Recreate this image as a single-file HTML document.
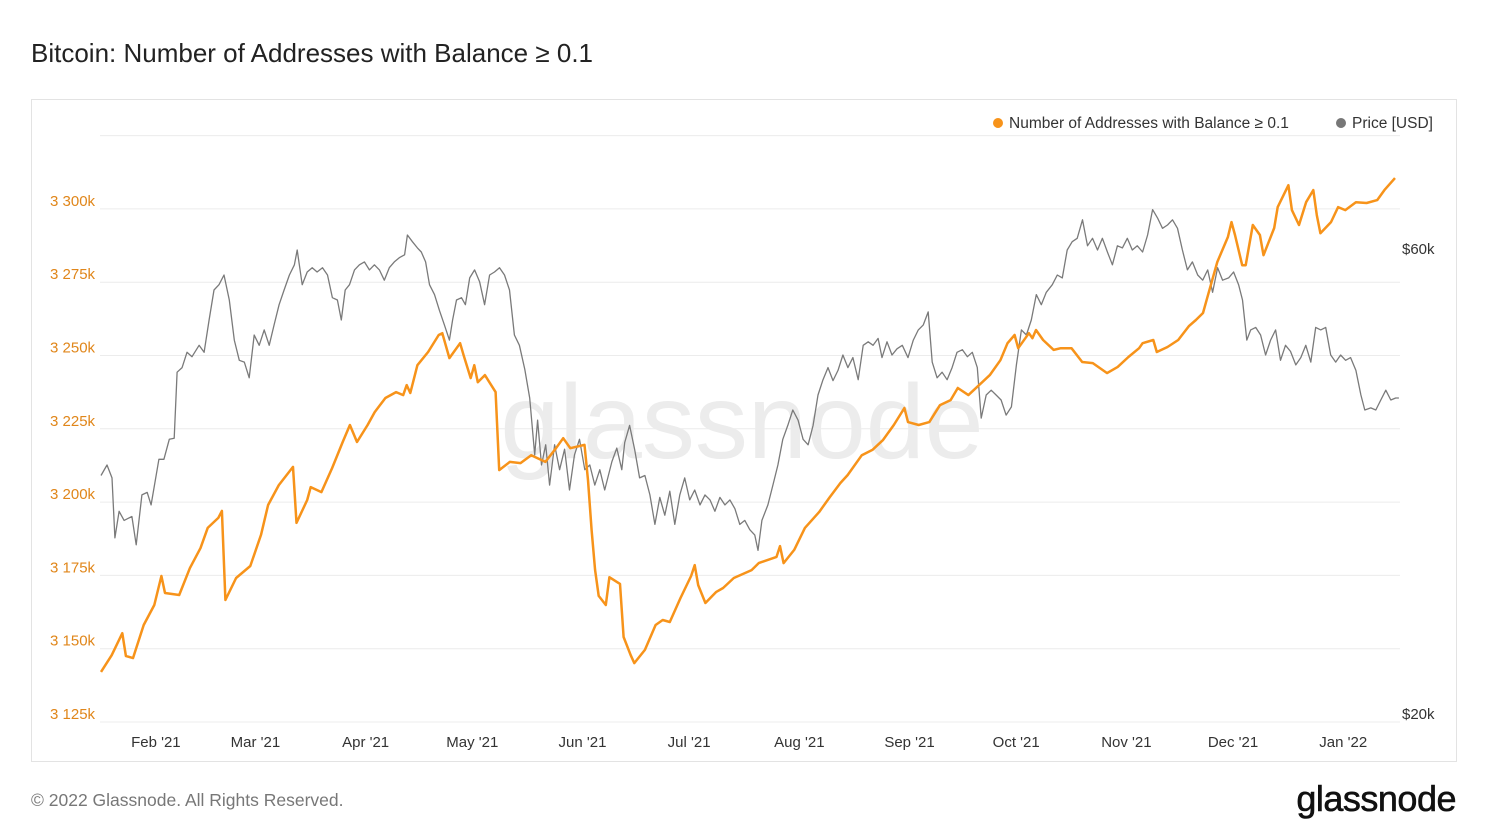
<!DOCTYPE html>
<html><head><meta charset="utf-8">
<style>
body{margin:0;background:#fff;font-family:"Liberation Sans",sans-serif;}
#wrap{position:relative;width:1488px;height:837px;overflow:hidden;background:#fff;}
</style></head>
<body>
<div id="wrap">
<svg id="svg" width="1488" height="837" style="position:absolute;left:0;top:0">
 <text x="31" y="62" font-size="26" fill="#222">Bitcoin: Number of Addresses with Balance ≥ 0.1</text>
 <rect x="31.5" y="99.5" width="1425" height="662" fill="none" stroke="#e3e3e3"/>
 <text x="742" y="458" font-size="106" fill="#ececec" text-anchor="middle">glassnode</text>
 <g id="grid"></g>
 <g id="series"></g>
 <g>
  <circle cx="998" cy="123" r="5" fill="#f7931a"/>
  <text x="1009" y="128" font-size="15.5" fill="#333">Number of Addresses with Balance ≥ 0.1</text>
  <circle cx="1341" cy="123" r="5" fill="#777"/>
  <text x="1352" y="128" font-size="15.5" fill="#333">Price [USD]</text>
 </g>
 <text x="31" y="806" font-size="17.5" fill="#777">© 2022 Glassnode. All Rights Reserved.</text>
 <text x="1456" y="811" font-size="36" fill="#111" text-anchor="end" letter-spacing="-0.5" stroke="#111" stroke-width="0.6">glassnode</text>
</svg>
</div>
<script>
const leftTicks=[3125,3150,3175,3200,3225,3250,3275,3300];
const leftTickLabels=["3 125k","3 150k","3 175k","3 200k","3 225k","3 250k","3 275k","3 300k"];
const rightTicks=[20,60];
const rightTickLabels=["$20k","$60k"];
const monthDays=[16,44,75,105,136,166,197,228,258,289,319,350];
const monthLabels=["Feb '21","Mar '21","Apr '21","May '21","Jun '21","Jul '21","Aug '21","Sep '21","Oct '21","Nov '21","Dec '21","Jan '22"];
const addrDays=[0,3,6,7,9,12,15,17,18,22,25,28,30,33,34,35,38,42,45,47,50,54,55,58,59,62,65,68,70,72,75,77,80,83,85,86,87,89,92,95,96,98,101,102,104,105,106,108,111,112,115,118,121,125,128,130,132,136,137,138,139,140,142,143,146,147,149,150,153,156,158,160,163,166,167,168,170,173,175,178,183,185,190,191,192,195,198,202,205,208,210,214,217,220,223,226,227,230,233,236,239,241,244,247,250,253,255,257,258,261,262,263,265,268,270,273,276,279,283,286,289,292,293,296,297,300,303,306,308,310,311,314,317,318,319,321,322,324,326,327,330,331,334,335,337,339,341,342,343,346,348,350,353,356,359,361,364];
const addrValues=[3142.1,3147.8,3155.3,3147.5,3146.8,3158.1,3164.9,3174.8,3169.0,3168.3,3177.5,3184.3,3191.2,3194.6,3197.0,3166.6,3174.1,3178.2,3188.8,3199.0,3205.8,3212.0,3192.9,3200.7,3205.1,3203.4,3211.6,3220.5,3226.3,3220.5,3226.3,3230.7,3235.5,3237.5,3236.5,3239.9,3237.2,3246.7,3251.2,3257.0,3257.6,3249.1,3254.2,3250.1,3242.3,3246.7,3240.9,3243.3,3237.5,3210.9,3213.7,3213.3,3216.0,3213.7,3218.4,3221.8,3218.4,3219.5,3207.5,3190.5,3176.8,3168.0,3164.9,3174.4,3172.1,3154.0,3147.8,3145.1,3149.6,3158.1,3159.8,3159.1,3167.3,3174.8,3178.5,3171.7,3165.6,3169.3,3170.7,3174.1,3176.8,3179.2,3181.3,3185.0,3179.2,3183.7,3191.2,3196.6,3201.7,3206.5,3209.2,3216.0,3217.8,3221.2,3226.3,3232.1,3227.3,3226.3,3227.3,3233.1,3234.8,3238.9,3236.5,3239.9,3243.3,3248.4,3254.2,3257.0,3252.5,3257.6,3255.9,3258.7,3255.3,3251.9,3252.5,3252.5,3247.8,3247.4,3244.0,3246.1,3249.5,3252.5,3254.2,3255.3,3251.2,3252.9,3255.3,3260.0,3262.1,3264.5,3268.9,3281.9,3290.4,3295.5,3291.1,3280.8,3280.8,3294.5,3291.1,3284.2,3293.5,3300.6,3308.1,3299.6,3294.5,3302.3,3306.4,3297.9,3291.7,3295.5,3300.6,3299.6,3302.3,3302.0,3303.0,3306.4,3310.5];
const priceDays=[0,1.7,3.1,3.9,5.1,6.5,8.7,9.9,11.5,13,14.1,16.3,17.7,19.2,20.6,21.4,22.8,24.2,25.6,27.6,29,30.4,31.8,33.2,34.6,36.1,37.5,38.9,40.3,41.7,43.1,44.5,45.9,47.3,48.7,50.1,51.5,53,54.4,55.2,56.6,58,59.4,60.8,62.3,63.7,65.1,66.5,67.6,68.7,69.9,71.3,72.7,74.1,75.5,76.9,78.3,79.7,81.1,82.5,83.9,85.4,86.2,87.6,89,90.1,91.3,92.4,93.8,95.2,96.6,98,98.9,100,101.4,102.5,103.7,105.1,106.5,107.9,109.3,110.7,112.1,113.5,114.9,116.3,117.7,119.2,120.6,122,122.8,123.9,125.1,126.2,127.6,129,130.4,131.8,133.2,134.6,136.1,137.5,138.9,140.3,141.7,143.7,145.1,146.5,147.3,148.7,150.1,151.5,153,154.4,155.8,157.2,158.6,160,161.4,162.8,164.2,165.6,167,168.5,169.9,171.3,172.7,174.1,175.5,176.9,178.3,179.7,181.1,182.5,183.9,184.8,185.9,187.6,189,190.4,191.8,193.2,194.6,196.1,197.5,198.9,200.3,201.7,203.1,204.5,205.9,207.3,208.7,210.1,211.5,213,214.4,215.8,217.2,218.6,219.7,221.1,222.5,223.9,225.4,227,228.5,229.9,231.3,232.7,233.8,235.2,236.6,238,239.4,240.8,242.3,243.7,245.1,246.5,247.6,249,250.4,251.8,253.2,254.6,256.1,257.5,258.9,260.3,261.7,263.1,264.5,265.9,267.6,269,270.4,271.8,273.2,274.6,276.1,277.5,278.9,280.3,281.7,283.1,284.5,285.9,287.3,288.7,290.1,291.5,293,294.4,295.8,297.2,298.6,300,301.4,302.8,304.2,305.6,307,308.5,309.9,311.3,312.7,314.1,315.5,317.2,318.6,320,321.1,322.3,323.4,324.8,326.2,327.6,329,330.4,331.8,333.2,334.6,336.1,337.5,338.9,340.3,341.7,343.1,344.5,345.9,347.3,348.7,350.1,351.5,353,354.4,355.5,357.2,358.6,360,361.4,362.8,364.2,365.1];
const priceValues=[35.8,36.7,35.6,30.9,32.9,32.2,32.5,30.4,34.2,34.4,33.4,37.2,37.2,39.0,39.1,45.7,46.2,47.9,47.4,48.7,47.9,51.7,55.5,56.2,57.5,54.2,49.3,47.0,46.8,45.1,49.9,48.7,50.5,48.7,51.1,53.6,55.5,57.5,58.9,61.0,56.2,57.9,58.5,57.9,58.5,57.5,54.5,54.2,51.7,55.5,56.2,58.2,58.9,59.3,58.2,58.9,58.2,56.8,58.5,59.3,59.9,60.3,63.2,62.2,61.3,60.7,59.3,56.2,54.9,52.9,51.1,49.3,51.7,54.2,54.5,53.6,57.1,58.2,56.6,53.6,57.5,57.9,58.5,57.5,55.5,49.9,48.7,46.0,43.0,37.6,40.8,36.7,38.5,35.0,38.5,36.3,38.1,34.6,37.6,39.0,36.3,36.7,35.0,36.3,34.6,37.0,38.2,36.3,38.7,40.3,38.1,35.6,35.8,34.2,31.9,34.0,32.6,34.5,31.9,34.2,35.6,33.8,34.6,33.4,34.2,33.8,32.9,34.0,33.4,33.8,33.1,31.9,32.2,31.5,31.1,30.0,32.2,33.4,35.0,36.7,39.0,40.3,41.8,40.8,39.0,38.5,40.3,43.3,44.9,46.2,44.8,45.9,47.6,46.2,47.3,44.9,48.7,49.1,48.7,49.5,47.3,49.1,47.6,48.3,48.7,47.3,49.3,50.5,51.1,52.7,46.8,45.1,45.7,44.9,46.2,47.9,48.2,47.4,47.9,46.2,41.0,43.3,43.8,43.3,42.8,41.3,42.1,46.5,50.5,49.9,51.7,54.9,53.6,55.2,56.2,57.5,57.1,61.0,62.2,62.7,65.5,61.6,62.7,61.0,62.7,60.7,58.9,61.6,61.3,62.7,61.0,61.6,60.7,63.2,67.1,65.8,64.2,64.7,65.5,64.2,61.0,58.2,59.3,57.5,56.8,58.2,55.2,58.5,56.8,57.1,57.9,56.2,54.2,49.3,50.5,50.8,49.9,47.6,49.3,50.5,47.0,48.7,48.0,46.5,47.3,48.7,46.8,50.8,50.5,50.8,47.6,46.8,47.6,47.0,47.3,45.9,43.3,41.8,42.0,41.8,42.8,43.8,42.8,43.0,43.0];

const NS="http://www.w3.org/2000/svg";
const xScale=d=>101+d*3.555;
const yLeft=v=>722-(v-3125)*73.3/25;
const yRight=p=>722-Math.log(p/20)*423.3;
const grid=document.getElementById('grid');
const series=document.getElementById('series');
function mk(tag,attrs,parent){const e=document.createElementNS(NS,tag);for(const k in attrs)e.setAttribute(k,attrs[k]);parent.appendChild(e);return e;}
[...leftTicks,3325].forEach(v=>{
 const l=mk('line',{x1:100,x2:1400,y1:yLeft(v),y2:yLeft(v),stroke:'#ececec','stroke-width':1},grid);
 
 
});
leftTicks.forEach((v,i)=>{
 const t=mk('text',{x:50,y:yLeft(v)-3,'font-size':15,fill:'#e0861a'},grid);
 t.textContent=leftTickLabels[i];
 
 
});
rightTicks.forEach((v,i)=>{
 const t=mk('text',{x:1402,y:yRight(v)-3,'font-size':15,fill:'#333'},grid);
 t.textContent=rightTickLabels[i];
 
 
});
monthDays.forEach((d,i)=>{
 const t=mk('text',{x:xScale(d)-2,y:747,'font-size':15,fill:'#333','text-anchor':'middle'},grid);
 t.textContent=monthLabels[i];
 
 
});
const pricePts=priceDays.map((d,i)=>xScale(d).toFixed(1)+','+yRight(priceValues[i]).toFixed(1)).join(' ');
const pl=mk('polyline',{points:pricePts,fill:'none',stroke:'#7a7a7a','stroke-width':1.3,'stroke-linejoin':'round'},series);


const addrPts=addrDays.map((d,i)=>xScale(d).toFixed(1)+','+yLeft(addrValues[i]).toFixed(1)).join(' ');
const al=mk('polyline',{points:addrPts,fill:'none',stroke:'#f7931a','stroke-width':2.5,'stroke-linejoin':'round'},series);


</script>
</body></html>
